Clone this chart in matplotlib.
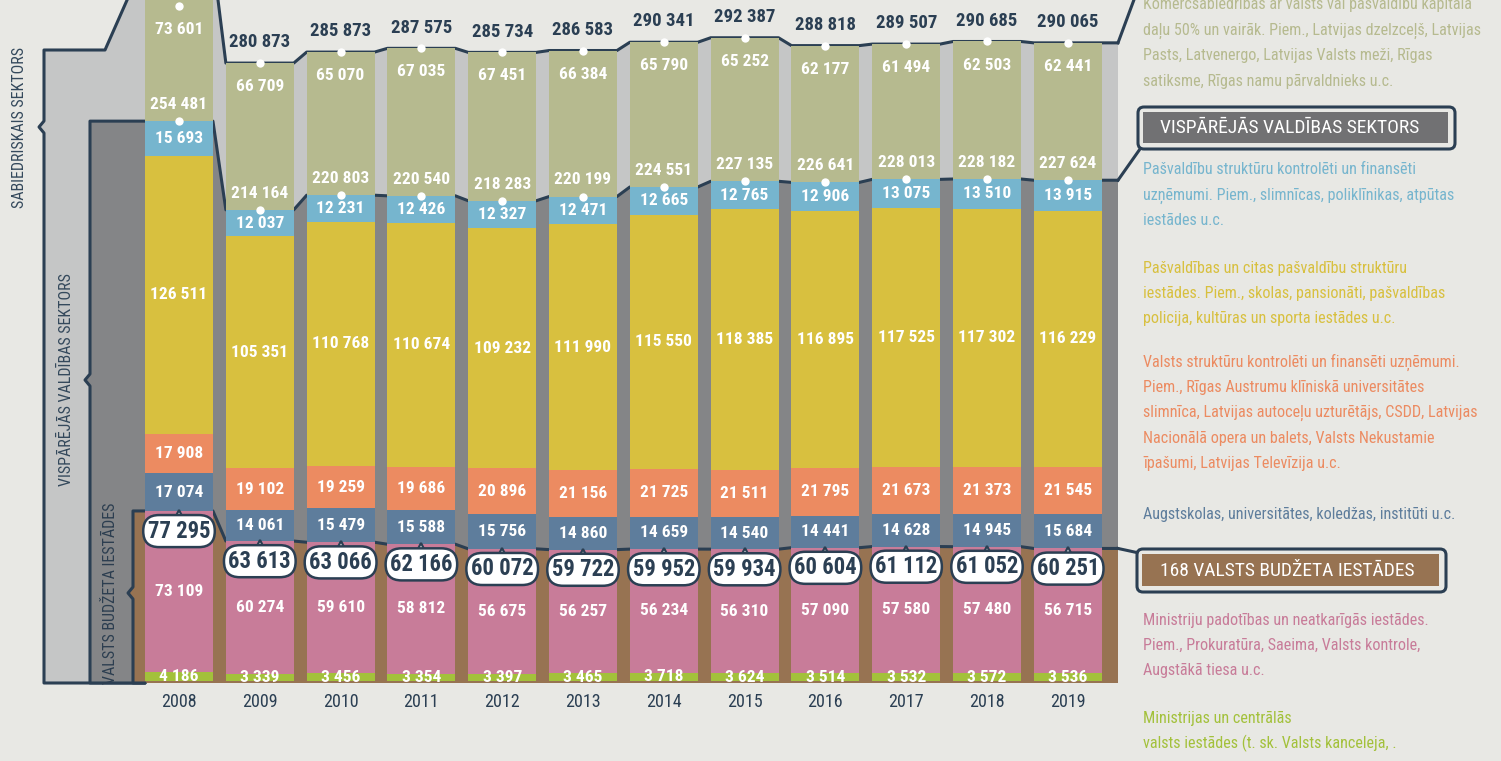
import matplotlib
matplotlib.use('Agg')
import matplotlib.pyplot as plt
import numpy as np
from matplotlib import font_manager
from matplotlib.patches import Polygon, FancyBboxPatch, Rectangle

# ---- data -------------------------------------------------------------
years = ['2008', '2009', '2010', '2011', '2012', '2013',
         '2014', '2015', '2016', '2017', '2018', '2019']

ministries = [4186, 3339, 3456, 3354, 3397, 3465, 3718, 3624, 3514, 3532, 3572, 3536]
subordinate = [73109, 60274, 59610, 58812, 56675, 56257, 56234, 56310, 57090, 57580, 57480, 56715]
universities = [17074, 14061, 15479, 15588, 15756, 14860, 14659, 14540, 14441, 14628, 14945, 15684]
state_companies = [17908, 19102, 19259, 19686, 20896, 21156, 21725, 21511, 21795, 21673, 21373, 21545]
municipal = [126511, 105351, 110768, 110674, 109232, 111990, 115550, 118385, 116895, 117525, 117302, 116229]
municipal_companies = [15693, 12037, 12231, 12426, 12327, 12471, 12665, 12765, 12906, 13075, 13510, 13915]
public_companies = [73601, 66709, 65070, 67035, 67451, 66384, 65790, 65252, 62177, 61494, 62503, 62441]

budget_total = [77295, 63613, 63066, 62166, 60072, 59722, 59952, 59934, 60604, 61112, 61052, 60251]
general_total = [254481, 214164, 220803, 220540, 218283, 220199, 224551, 227135, 226641, 228013, 228182, 227624]
public_total = [328082, 280873, 285873, 287575, 285734, 286583, 290341, 292387, 288818, 289507, 290685, 290065]

olive_desc = ["Komercsabiedrības ar valsts vai pašvaldību kapitāla",
              "daļu 50% un vairāk. Piem., Latvijas dzelzceļš, Latvijas",
              "Pasts, Latvenergo, Latvijas Valsts meži, Rīgas",
              "satiksme, Rīgas namu pārvaldnieks u.c."]
lblue_desc = ["Pašvaldību struktūru kontrolēti un finansēti",
              "uzņēmumi. Piem., slimnīcas, poliklīnikas, atpūtas",
              "iestādes u.c."]
yellow_desc = ["Pašvaldības un citas pašvaldību struktūru",
               "iestādes. Piem., skolas, pansionāti, pašvaldības",
               "policija, kultūras un sporta iestādes u.c."]
orange_desc = ["Valsts struktūru kontrolēti un finansēti uzņēmumi.",
               "Piem., Rīgas Austrumu klīniskā universitātes",
               "slimnīca, Latvijas autoceļu uzturētājs, CSDD, Latvijas",
               "Nacionālā opera un balets, Valsts Nekustamie",
               "īpašumi, Latvijas Televīzija u.c."]
steel_desc = ["Augstskolas, universitātes, koledžas, institūti u.c."]
pink_desc = ["Ministriju padotības un neatkarīgās iestādes.",
             "Piem., Prokuratūra, Saeima, Valsts kontrole,",
             "Augstākā tiesa u.c."]
green_desc = ["Ministrijas un centrālās",
              "valsts iestādes (t. sk. Valsts kanceleja, ."]

# ---- style ------------------------------------------------------------
BG = '#e8e8e4'
DARK = '#2b3f53'
C_GREEN = '#a3c13b'
C_PINK = '#c87c99'
C_STEEL = '#5e7d9c'
C_ORANGE = '#ec8b61'
C_YELLOW = '#d8c03f'
C_LBLUE = '#76b5ce'
C_OLIVE = '#b6ba8f'
C_BAND1 = '#c5c6c6'
C_BAND2 = '#848587'
C_BAND3 = '#977352'

# pick the narrowest installed sans (the original uses a condensed DIN)
ents = font_manager.fontManager.ttflist


def has(name, stretch=None):
    for f in ents:
        if f.name == name and (stretch is None or str(f.stretch) == stretch):
            return True
    return False


options = [('Roboto Condensed', None, 0.70), ('Liberation Sans Narrow', None, 0.66),
           ('Open Sans Condensed', None, 0.72), ('Noto Sans', 'condensed', 0.72),
           ('Roboto', 'condensed', 0.72), ('Open Sans', 'condensed', 0.78),
           ('DejaVu Sans', 'condensed', 0.90), ('Roboto', None, 0.88)]
FAM, STRETCH, R = 'DejaVu Sans', None, 1.0
for name, st, r in options:
    if has(name, st):
        FAM, STRETCH, R = name, st, r
        break
plt.rcParams['font.family'] = [FAM, 'DejaVu Sans']
if STRETCH:
    plt.rcParams['font.stretch'] = STRETCH

dv = dict(bar=10.2, total=10.5, budget=12.5, year=10.5, side=8.5, legend=8.3, box=10.3)
cap = dict(bar=12.5, total=13.5, budget=16.3, year=13, side=11.5, legend=11.6, box=14)
FS = {k: min(dv[k] / R, cap[k]) for k in dv}

# pixel -> data helpers (layout of the infographic)
PX0, DX = 179.0, 80.8
BASE, SC = 681.0, 0.0022


def xd(px):
    return (px - PX0) / DX


def yd(py):
    return (BASE - py) / SC


def fmt(v):
    return f"{v:,}".replace(',', ' ')


W = 0.84
x = np.arange(len(years))
YB = yd(683)
XR = xd(1118)

fig = plt.figure(figsize=(15.01, 7.61), dpi=100, facecolor=BG)
ax = fig.add_axes([0, 0, 1, 1])
ax.set_facecolor(BG)
ax.axis('off')
ax.set_xlim(xd(0), xd(1501))
ax.set_ylim(yd(761), yd(0))


def band(levels, xl, ytop, notch_py, fill, z, extra=()):
    pts = [(xl, YB), (xl, yd(notch_py + 6)), (xl - 5 / DX, yd(notch_py)),
           (xl, yd(notch_py - 6)), (xl, ytop)]
    pts += list(extra)
    for i, v in enumerate(levels):
        pts += [(i - W / 2, v), (i + W / 2, v)]
    pts += [(XR, levels[-1]), (XR, YB)]
    ax.add_patch(Polygon(pts, closed=True, fc=fill, ec='none', zorder=z))
    outline = [(-W / 2, YB)] + pts[:-1]
    xs, ys = zip(*outline)
    ax.plot(xs, ys, color=DARK, lw=2.2, zorder=z + 0.05,
            solid_joinstyle='round', solid_capstyle='round')


band(public_total, xd(44), yd(50), 127, C_BAND1, 1.0, extra=[(xd(105), yd(50))])
band(general_total, xd(90), general_total[0], 380, C_BAND2, 1.2)
band(budget_total, xd(133), budget_total[0], 593, C_BAND3, 1.4)

# connectors to the right-hand boxes
ax.plot([XR, xd(1135)], [public_total[-1], yd(-3)], color=DARK, lw=2.2, zorder=1.1)
ax.plot([XR, xd(1140)], [general_total[-1], yd(149)], color=DARK, lw=2.2, zorder=1.3)
ax.plot([XR, xd(1139)], [budget_total[-1], yd(553)], color=DARK, lw=2.2, zorder=1.5)

# stacked bars
layers = [(ministries, C_GREEN), (subordinate, C_PINK), (universities, C_STEEL),
          (state_companies, C_ORANGE), (municipal, C_YELLOW),
          (municipal_companies, C_LBLUE), (public_companies, C_OLIVE)]
bottom = np.zeros(len(years))
for k, (vals, col) in enumerate(layers):
    vals = np.array(vals)
    ax.bar(x, vals, W, bottom=bottom, color=col, lw=0, zorder=3)
    if k < 6:
        for i in range(len(years)):
            ax.text(x[i], bottom[i] + vals[i] / 2, fmt(vals[i]), ha='center',
                    va='center', color='white', fontsize=FS['bar'],
                    fontweight='bold', zorder=6)
    bottom = bottom + vals

top_vis = yd(6)
for i in range(len(years)):
    ytop = min(public_total[i], top_vis)
    # olive segment label near its top
    ax.annotate(fmt(public_companies[i]), (x[i], ytop), xytext=(0, -17),
                textcoords='offset points', ha='center', va='center',
                color='white', fontsize=FS['bar'], fontweight='bold', zorder=6)
    # general government label above its dot
    ax.annotate(fmt(general_total[i]), (x[i], general_total[i]), xytext=(0, 12),
                textcoords='offset points', ha='center', va='center',
                color='white', fontsize=FS['bar'], fontweight='bold', zorder=6)
    # overall total above bar
    ax.annotate(fmt(public_total[i]), (x[i], public_total[i]), xytext=(0, 15),
                textcoords='offset points', ha='center', va='center',
                color=DARK, fontsize=FS['total'], fontweight='bold', zorder=6)
    ax.plot(x[i], ytop, 'o', color='white', ms=6, mec='none', zorder=6)
    ax.plot(x[i], general_total[i], 'o', color='white', ms=6, mec='none', zorder=6)
    # budget institutions callout
    ax.plot(x[i], budget_total[i] - 5 / SC, marker='^', ms=9, mfc='white',
            mec=DARK, mew=1.6, zorder=6)
    ax.annotate(fmt(budget_total[i]), (x[i], budget_total[i]), xytext=(0, -14.5),
                textcoords='offset points', ha='center', va='center',
                color=DARK, fontsize=FS['budget'], fontweight='bold', zorder=7,
                bbox=dict(boxstyle='round,pad=0.2,rounding_size=0.7',
                          fc='white', ec=DARK, lw=1.8))
    ax.text(x[i], yd(702), years[i], ha='center', va='center',
            color=DARK, fontsize=FS['year'], zorder=6)

# rotated section labels
ax.text(xd(20), yd(127), 'SABIEDRISKAIS SEKTORS', rotation=90, ha='center',
        va='center', color='#34495c', fontsize=FS['side'], zorder=6)
ax.text(xd(66), yd(380), 'VISPĀRĒJĀS VALDĪBAS SEKTORS', rotation=90,
        ha='center', va='center', color='#34495c', fontsize=FS['side'], zorder=6)
ax.text(xd(111), yd(593), 'VALSTS BUDŽETA IESTĀDES', rotation=90,
        ha='center', va='center', color='#2c3e50', fontsize=FS['side'], zorder=6)

# ---- right-hand legend (pixel coordinates) ----------------------------
deco = fig.add_axes([0, 0, 1, 1])
deco.set_xlim(0, 1501)
deco.set_ylim(761, 0)
deco.axis('off')
deco.patch.set_alpha(0)

LX, LH = 1143, 25.4
blocks = [(olive_desc, C_OLIVE, 5), (lblue_desc, C_LBLUE, 170),
          (yellow_desc, C_YELLOW, 268), (orange_desc, C_ORANGE, 362),
          (steel_desc, C_STEEL, 515), (pink_desc, C_PINK, 620),
          (green_desc, C_GREEN, 718)]
for lines, col, y0 in blocks:
    for j, line in enumerate(lines):
        deco.text(LX, y0 + j * LH, line, ha='left', va='center', color=col,
                  fontsize=FS['legend'])

for (bx, by, bw, bh, fill, label) in [
        (1141, 110, 311, 36, '#717173', 'VISPĀRĒJĀS VALDĪBAS SEKTORS'),
        (1140, 552, 303, 37, C_BAND3, '168 VALSTS BUDŽETA IESTĀDES')]:
    deco.add_patch(FancyBboxPatch((bx, by), bw, bh,
                                  boxstyle='round,pad=3,rounding_size=6',
                                  fc=BG, ec=DARK, lw=2.2))
    deco.add_patch(Rectangle((bx + 2, by + 2), bw - 6, bh - 5, fc=fill, ec='none'))
    deco.text(1160, by + bh / 2, label, ha='left', va='center', color='white',
              fontsize=FS['box'])

fig.savefig('out.png', dpi=100, facecolor=BG)
